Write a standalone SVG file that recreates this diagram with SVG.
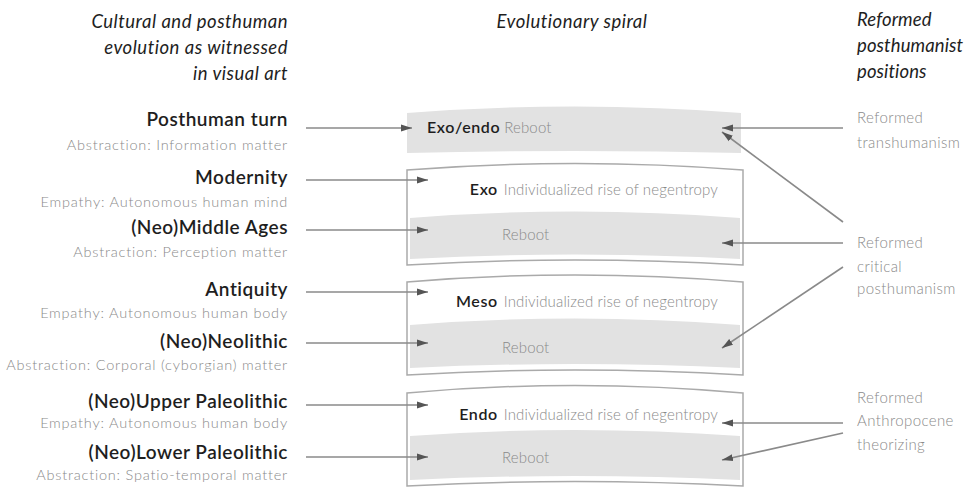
<svg xmlns="http://www.w3.org/2000/svg" width="969" height="487" viewBox="0 0 969 487">
<style>
.hd{font-family:Lato,"Liberation Sans",sans-serif;font-style:italic;font-size:18.5px;letter-spacing:0.5px;fill:#1e1e1e}
.hr{letter-spacing:0.1px}
.lb{font-family:Lato,"Liberation Sans",sans-serif;font-weight:600;font-size:19px;letter-spacing:0.5px;fill:#1e1e1e}
.sb{font-family:Lato,"Liberation Sans",sans-serif;font-weight:300;font-size:14.5px;letter-spacing:0.8px;fill:#8a8a8a}
.rt{font-family:Lato,"Liberation Sans",sans-serif;font-weight:300;font-size:15px;letter-spacing:0.4px;fill:#8a8a8a}
.bx{font-family:Lato,"Liberation Sans",sans-serif;font-weight:600;font-size:16px;letter-spacing:0.6px;fill:#1e1e1e}
.gx{font-family:Lato,"Liberation Sans",sans-serif;font-weight:300;font-size:15px;letter-spacing:0.15px;fill:#8a8a8a}
.band{fill:#e2e2e2}
.frame{fill:#fff;stroke:#aaa;stroke-width:1.5}
.cn{stroke:#8a8a8a;stroke-width:1.6;fill:none;marker-end:url(#ah)}
</style>
<defs>
<marker id="ah" markerUnits="userSpaceOnUse" markerWidth="12" markerHeight="8" refX="11" refY="4" orient="auto">
<path d="M0,0.5 L11,4 L0,7.5 Z" fill="#555"/>
</marker>
</defs>
<rect width="969" height="487" fill="#fff"/>

<g id="headers">
<text class="hd" x="288" y="28" text-anchor="end">Cultural and posthuman</text>
<text class="hd" x="288" y="54" text-anchor="end">evolution as witnessed</text>
<text class="hd" x="288" y="80" text-anchor="end">in visual art</text>
<text class="hd" x="572" y="28" text-anchor="middle">Evolutionary spiral</text>
<text class="hd hr" x="857" y="26">Reformed</text>
<text class="hd hr" x="857" y="52">posthumanist</text>
<text class="hd hr" x="857" y="78">positions</text>
</g>

<g id="left-posthuman-turn">
<text class="lb" x="288" y="126" text-anchor="end">Posthuman turn</text>
<text class="sb" x="288" y="150" text-anchor="end">Abstraction: Information matter</text>
</g>
<g id="left-modernity">
<text class="lb" x="288" y="184" text-anchor="end">Modernity</text>
<text class="sb" x="288" y="207" text-anchor="end">Empathy: Autonomous human mind</text>
</g>
<g id="left-middle-ages">
<text class="lb" x="288" y="234" text-anchor="end">(Neo)Middle Ages</text>
<text class="sb" x="288" y="257" text-anchor="end">Abstraction: Perception matter</text>
</g>
<g id="left-antiquity">
<text class="lb" x="288" y="296" text-anchor="end">Antiquity</text>
<text class="sb" x="288" y="318" text-anchor="end">Empathy: Autonomous human body</text>
</g>
<g id="left-neolithic">
<text class="lb" x="288" y="348" text-anchor="end">(Neo)Neolithic</text>
<text class="sb" x="288" y="370" text-anchor="end">Abstraction: Corporal (cyborgian) matter</text>
</g>
<g id="left-upper-paleolithic">
<text class="lb" x="288" y="408" text-anchor="end">(Neo)Upper Paleolithic</text>
<text class="sb" x="288" y="428" text-anchor="end">Empathy: Autonomous human body</text>
</g>
<g id="left-lower-paleolithic">
<text class="lb" x="288" y="459" text-anchor="end">(Neo)Lower Paleolithic</text>
<text class="sb" x="288" y="480" text-anchor="end">Abstraction: Spatio-temporal matter</text>
</g>

<g id="spiral-exo-endo">
<path class="band" d="M407,113 Q575,100 741,113 L741,153 Q575,149 407,153 Z"/>
<text x="427" y="133"><tspan class="bx">Exo/endo</tspan><tspan class="gx" dx="4">Reboot</tspan></text>
</g>
<g id="spiral-exo">
<path class="frame" d="M407,170 Q575,157 743,170 L743,265 Q575,255 407,265 Z"/>
<path class="band" d="M410,218 Q575,205 740,218 L740,259 Q575,250 410,259 Z"/>
<text x="718" y="195" text-anchor="end"><tspan class="bx">Exo</tspan><tspan class="gx" dx="6">Individualized rise of negentropy</tspan></text>
<text class="gx" x="502" y="240">Reboot</text>
</g>
<g id="spiral-meso">
<path class="frame" d="M407,282 Q575,268 743,282 L743,375 Q575,365 407,375 Z"/>
<path class="band" d="M410,325 Q575,312 740,325 L740,368 Q575,360 410,368 Z"/>
<text x="718" y="307" text-anchor="end"><tspan class="bx">Meso</tspan><tspan class="gx" dx="6">Individualized rise of negentropy</tspan></text>
<text class="gx" x="502" y="353">Reboot</text>
</g>
<g id="spiral-endo">
<path class="frame" d="M407,393 Q575,378 743,393 L743,486 Q575,477 407,486 Z"/>
<path class="band" d="M410,436 Q575,424 740,436 L740,480 Q575,472 410,480 Z"/>
<text x="718" y="420" text-anchor="end"><tspan class="bx">Endo</tspan><tspan class="gx" dx="6">Individualized rise of negentropy</tspan></text>
<text class="gx" x="502" y="463">Reboot</text>
</g>

<g id="right-transhumanism">
<text class="rt" x="857" y="123">Reformed</text>
<text class="rt" x="857" y="148">transhumanism</text>
</g>
<g id="right-critical">
<text class="rt" x="857" y="248">Reformed</text>
<text class="rt" x="857" y="272">critical</text>
<text class="rt" x="857" y="294">posthumanism</text>
</g>
<g id="right-anthropocene">
<text class="rt" x="857" y="403">Reformed</text>
<text class="rt" x="857" y="426">Anthropocene</text>
<text class="rt" x="857" y="450">theorizing</text>
</g>

<g id="connectors">
<line class="cn" x1="306" y1="128" x2="412" y2="128"/>
<line class="cn" x1="306" y1="180" x2="428" y2="180"/>
<line class="cn" x1="306" y1="230" x2="428" y2="230"/>
<line class="cn" x1="306" y1="292" x2="428" y2="292"/>
<line class="cn" x1="306" y1="343" x2="428" y2="343"/>
<line class="cn" x1="306" y1="405" x2="428" y2="405"/>
<line class="cn" x1="306" y1="457" x2="428" y2="457"/>
<line class="cn" x1="843" y1="128" x2="722" y2="128"/>
<line class="cn" x1="843" y1="222" x2="722" y2="132"/>
<line class="cn" x1="843" y1="243" x2="722" y2="243"/>
<line class="cn" x1="843" y1="267" x2="722" y2="348"/>
<line class="cn" x1="843" y1="423" x2="722" y2="423"/>
<line class="cn" x1="843" y1="433" x2="722" y2="460"/>
</g>
</svg>
